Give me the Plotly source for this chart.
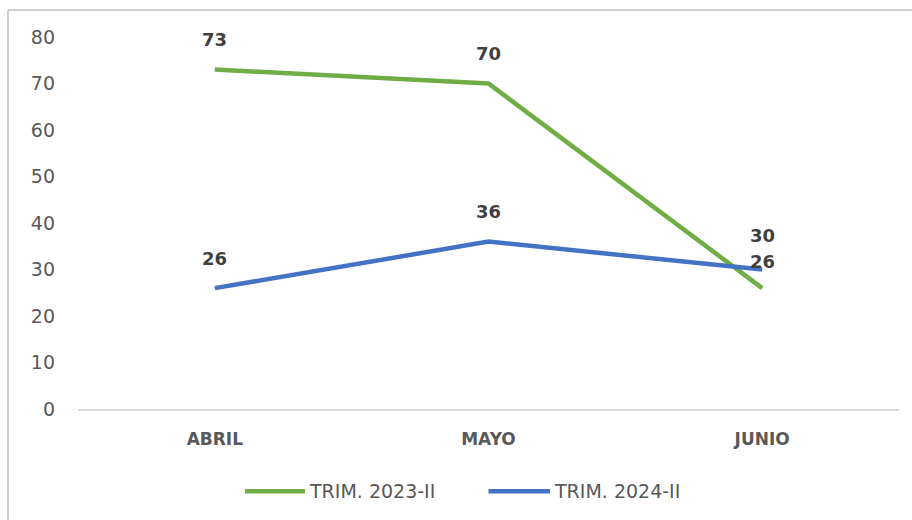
import plotly.graph_objects as go

months = ["ABRIL", "MAYO", "JUNIO"]
trim_2023 = [73, 70, 26]
trim_2024 = [26, 36, 30]
series_names = ["TRIM. 2023-II", "TRIM. 2024-II"]
y_ticks = [0, 10, 20, 30, 40, 50, 60, 70, 80]

GREEN = "#70AD47"
BLUE = "#4472C4"
GRAY = "#595959"

fig = go.Figure()
fig.add_trace(go.Scatter(x=months, y=trim_2023, mode="lines", name=series_names[0],
                         line=dict(color=GREEN, width=4.5), showlegend=False))
fig.add_trace(go.Scatter(x=months, y=trim_2024, mode="lines", name=series_names[1],
                         line=dict(color=BLUE, width=4.5), showlegend=False))

# data labels placed above points; nudge apart labels that would collide
PX_PER_UNIT = 372 / 80
MIN_GAP = 26
annotations = []
for i, m in enumerate(months):
    vals = [trim_2023[i], trim_2024[i]]
    shifts = [30.0, 30.0]
    hi, lo = (0, 1) if vals[0] >= vals[1] else (1, 0)
    gap = (vals[hi] - vals[lo]) * PX_PER_UNIT
    if gap < MIN_GAP:
        extra = (MIN_GAP - gap) / 2
        shifts[hi] += extra
        shifts[lo] -= extra
    for v, s in zip(vals, shifts):
        annotations.append(dict(x=m, y=v, xref="x", yref="y", text=f"<b>{v}</b>",
                                showarrow=False, yshift=s,
                                font=dict(family="DejaVu Sans", size=18, color="#404040")))

# manual legend (wider line samples as in reference)
legend_y = -0.221
shapes = [
    dict(type="line", xref="paper", yref="paper", x0=0.2034, x1=0.2765, y0=legend_y, y1=legend_y,
         line=dict(color=GREEN, width=4.5)),
    dict(type="line", xref="paper", yref="paper", x0=0.5, x1=0.5749, y0=legend_y, y1=legend_y,
         line=dict(color=BLUE, width=4.5)),
    # outer chart border (top and left)
    dict(type="line", xref="paper", yref="paper", x0=-0.0853, x1=1.02, y0=1.0726, y1=1.0726,
         line=dict(color="#D0D0D0", width=2)),
    dict(type="line", xref="paper", yref="paper", x0=-0.0853, x1=-0.0853, y0=1.0726, y1=-0.31,
         line=dict(color="#D0D0D0", width=2)),
]
annotations.append(dict(x=0.279, y=legend_y, xref="paper", yref="paper", text=series_names[0],
                        showarrow=False, xanchor="left", yanchor="middle",
                        font=dict(family="DejaVu Sans", size=19, color=GRAY)))
annotations.append(dict(x=0.5775, y=legend_y, xref="paper", yref="paper", text=series_names[1],
                        showarrow=False, xanchor="left", yanchor="middle",
                        font=dict(family="DejaVu Sans", size=19, color=GRAY)))

fig.update_layout(
    width=912, height=520,
    margin=dict(l=78, r=13, t=37, b=111),
    paper_bgcolor="white", plot_bgcolor="white",
    shapes=shapes, annotations=annotations,
    xaxis=dict(showgrid=False, showline=True, linecolor="#D9D9D9", linewidth=1.5,
               range=[-0.5, 2.5], ticks="", ticklabelstandoff=14,
               tickfont=dict(family="DejaVu Sans", size=17, color=GRAY, weight="bold"),
               zeroline=False),
    yaxis=dict(range=[0, 80], tickvals=y_ticks, showgrid=False, zeroline=False,
               showline=False, ticks="", ticklabelstandoff=22,
               tickfont=dict(family="DejaVu Sans", size=19, color=GRAY)),
)

fig.write_html("out.html")
